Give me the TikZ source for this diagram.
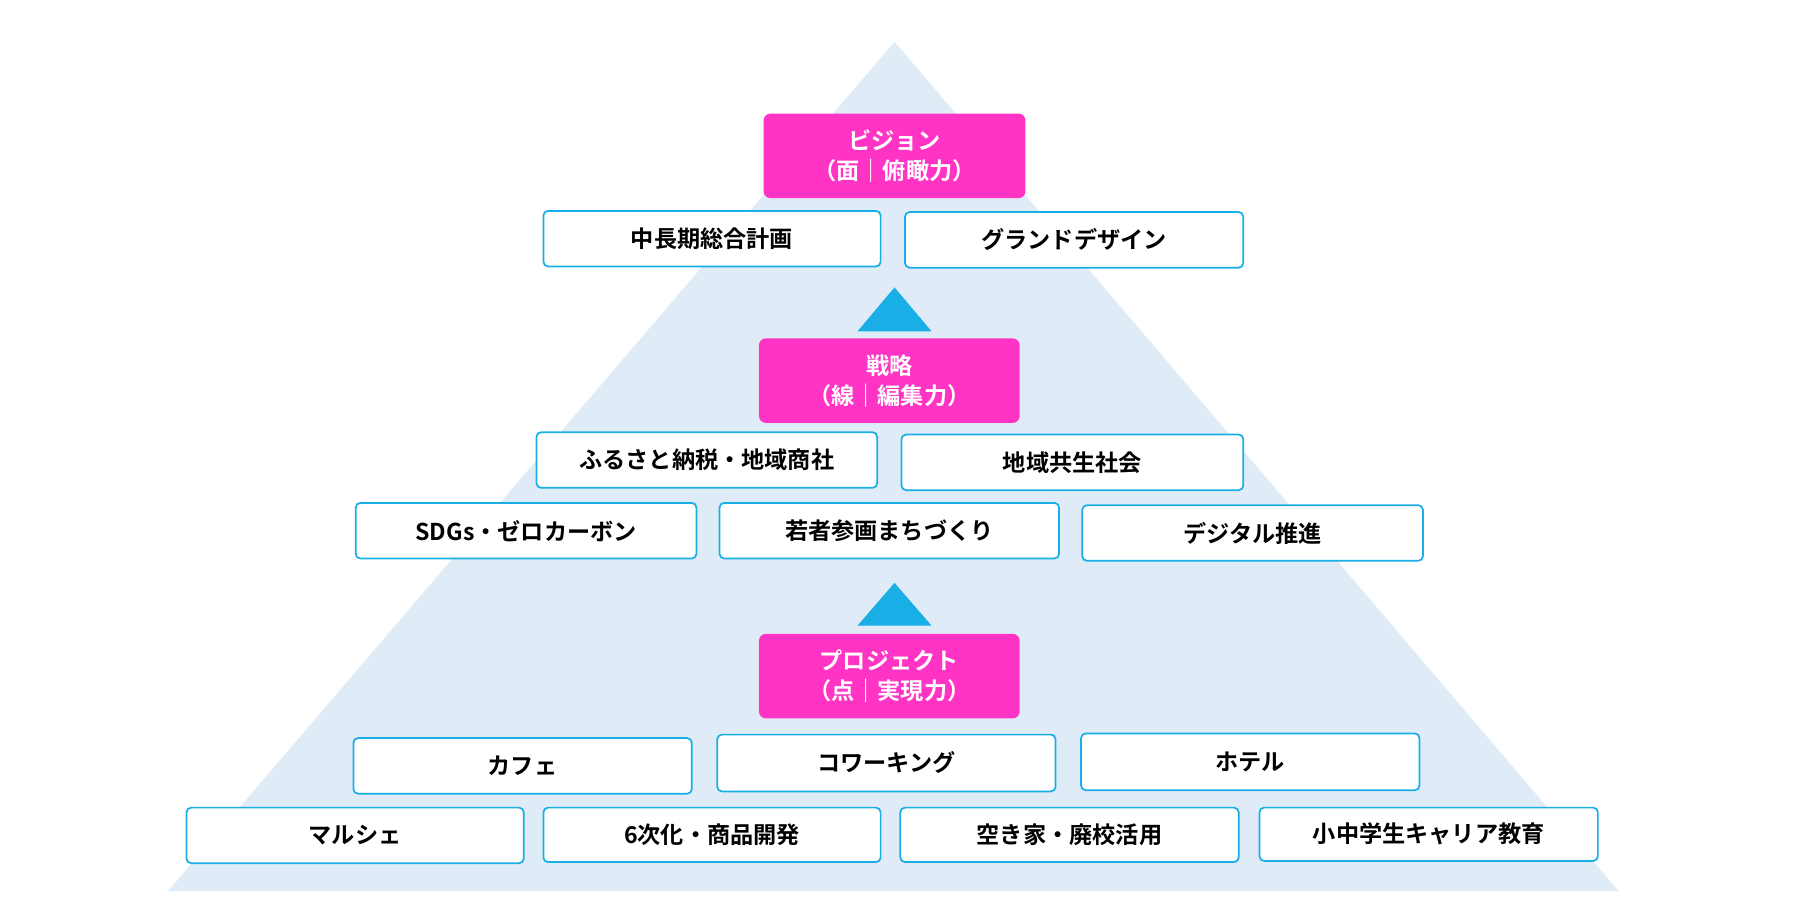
\documentclass[tikz,border=0pt]{standalone}
\usepackage{fontspec}
\setmainfont{Noto Sans CJK JP}[BoldFont={* Bold}]
\begin{document}
\begin{tikzpicture}[x=1pt,y=-1pt,
 pk/.style={fill=pinkc,rounded corners=6pt,text=white,font=\fontsize{20}{26}\selectfont\bfseries,align=center,inner sep=0},
 bx/.style={draw=cyanc,line width=1.5pt,fill=white,rounded corners=4pt,font=\fontsize{20}{24}\selectfont\bfseries,inner sep=0}]
\definecolor{pinkc}{HTML}{FF33C4}
\definecolor{cyanc}{HTML}{1AAEE6}
\definecolor{bgc}{HTML}{DFECF7}
\useasboundingbox (0,0) rectangle (1550,778);
\fill[bgc] (772,36) -- (1397,769) -- (145,769) -- cycle;
\newcommand\pbox[6]{\node[pk,minimum width=#3-#2,minimum height=#5-#4] (#1) at ({(#2+#3)/2},{(#4+#5)/2}) {#6};}
\newcommand\wbox[6]{\node[bx,minimum width=#3-#2,minimum height=#5-#4] (#1) at ({(#2+#3)/2},{(#4+#5)/2}) {#6};}
\pbox{v}{659}{885}{98}{171}{ビジョン\\（面｜俯瞰力）}
\wbox{a1}{469}{760}{182}{230}{中長期総合計画}
\wbox{a2}{781}{1073}{183}{231}{グランドデザイン}
\fill[cyanc] (772,248) -- (804,286) -- (740,286) -- cycle;
\pbox{s}{655}{880}{292}{365}{戦略\\（線｜編集力）}
\wbox{b1}{463}{757}{373}{421}{ふるさと納税・地域商社}
\wbox{b2}{778}{1073}{375}{423}{地域共生社会}
\wbox{b3}{307}{601}{434}{482}{SDGs・ゼロカーボン}
\wbox{b4}{621}{914}{434}{482}{若者参画まちづくり}
\wbox{b5}{934}{1228}{436}{484}{デジタル推進}
\fill[cyanc] (772,503) -- (804,540) -- (740,540) -- cycle;
\pbox{p}{655}{880}{547}{620}{プロジェクト\\（点｜実現力）}
\wbox{c1}{305}{597}{637}{685}{カフェ}
\wbox{c2}{619}{911}{634}{683}{コワーキング}
\wbox{c3}{933}{1225}{633}{682}{ホテル}
\wbox{d1}{161}{452}{697}{745}{マルシェ}
\wbox{d2}{469}{760}{697}{744}{6次化・商品開発}
\wbox{d3}{777}{1069}{697}{744}{空き家・廃校活用}
\wbox{d4}{1087}{1379}{697}{743}{小中学生キャリア教育}
\end{tikzpicture}
\end{document}
